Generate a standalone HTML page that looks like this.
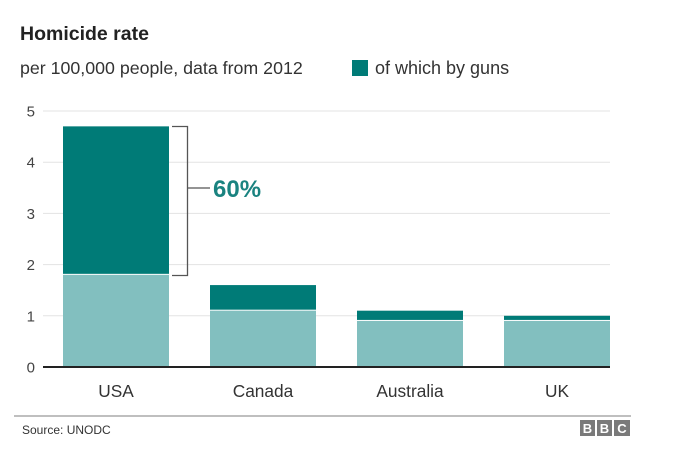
<!DOCTYPE html>
<html><head><meta charset="utf-8"><style>
body{margin:0;background:#fff;width:674px;height:444px;overflow:hidden;font-family:"Liberation Sans",Arial,sans-serif}
</style></head><body>
<svg width="674" height="444" font-family="Liberation Sans, Arial, sans-serif">
<text x="20" y="40" font-size="19.5" font-weight="bold" fill="#222">Homicide rate</text>
<text x="20" y="74" font-size="17.8" fill="#333">per 100,000 people, data from 2012</text>
<rect x="352" y="60" width="16" height="16" fill="#007b77"/>
<text x="375" y="74" font-size="18" fill="#333">of which by guns</text>
<g id="grid"></g>
<g id="bars"></g>
<g id="xlabels"></g>
<path d="M172 126.5H187.5V275.5H172M187.5 188H210" fill="none" stroke="#555" stroke-width="1.3"/>
<text x="213" y="197" font-size="24" font-weight="bold" fill="#1a8380">60%</text>
<line x1="14" y1="416" x2="631" y2="416" stroke="#aaa" stroke-width="1.5"/>
<text x="22" y="434" font-size="12" fill="#333">Source: UNODC</text>
<g>
<rect x="580" y="420" width="15" height="16" fill="#7a7a7a"/><rect x="597" y="420" width="15" height="16" fill="#7a7a7a"/><rect x="614" y="420" width="16" height="16" fill="#7a7a7a"/>
<text x="587.5" y="433" font-size="13" fill="#fff" text-anchor="middle" font-weight="bold">B</text>
<text x="604.5" y="433" font-size="13" fill="#fff" text-anchor="middle" font-weight="bold">B</text>
<text x="622" y="433" font-size="13" fill="#fff" text-anchor="middle" font-weight="bold">C</text>
</g>
</svg>
<script>
const categories=["USA","Canada","Australia","UK"];
const totals=[4.7,1.6,1.1,1.0];
const nonGun=[1.8,1.1,0.9,0.9];
const yTicks=[0,1,2,3,4,5];
const NS="http://www.w3.org/2000/svg";
const y0=367,pxPerUnit=51.2,plotL=43,plotR=610,barW=106,firstX=63,step=147;
const y=v=>y0-v*pxPerUnit;
const x=i=>firstX+i*step;
function mk(tag,attrs,parent){const e=document.createElementNS(NS,tag);for(const k in attrs)e.setAttribute(k,attrs[k]);parent.appendChild(e);return e;}
const grid=document.getElementById('grid'),bars=document.getElementById('bars'),xl=document.getElementById('xlabels');
yTicks.forEach(t=>{
 if(t>0){const l=mk('line',{x1:plotL,x2:plotR,y1:y(t),y2:y(t),stroke:'#e3e3e3','stroke-width':1},grid);
 
 }
 const tx=mk('text',{x:35,y:y(t)+5.5,'font-size':15,fill:'#444','text-anchor':'end'},grid);tx.textContent=t;
 
 
});
categories.forEach((c,i)=>{
 const g=totals[i]-nonGun[i];
 const r1=mk('rect',{x:x(i),y:y(nonGun[i]),width:barW,height:nonGun[i]*pxPerUnit,fill:'#82bfbf'},bars);
 
 
 const r2=mk('rect',{x:x(i),y:y(totals[i]),width:barW,height:g*pxPerUnit-1,fill:'#007b77'},bars);
 
 
 const t=mk('text',{x:x(i)+barW/2,y:397,'font-size':17.3,fill:'#333','text-anchor':'middle'},xl);t.textContent=c;
 
 
});
const ax=mk('line',{x1:plotL,x2:plotR,y1:y0,y2:y0,stroke:'#222','stroke-width':2},bars);


</script>
</body></html>
